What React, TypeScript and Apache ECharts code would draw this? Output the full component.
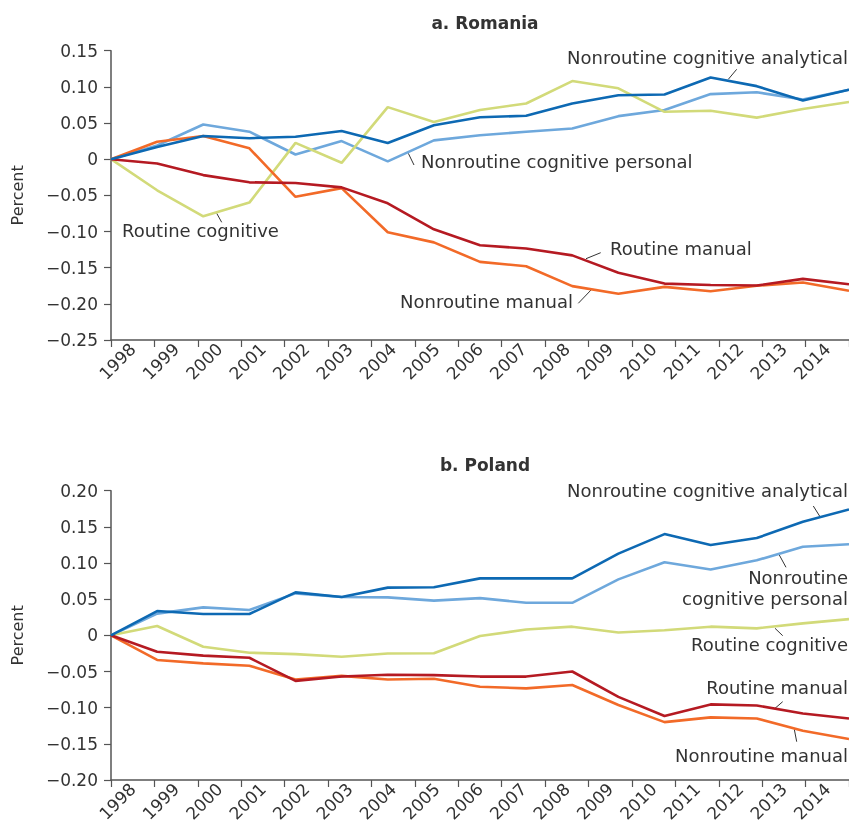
import React, { useEffect, useRef } from 'react';
import * as echarts from 'echarts';

const FONT = '"DejaVu Sans", sans-serif';

const years = ['1998','1999','2000','2001','2002','2003','2004','2005','2006','2007','2008','2009','2010','2011','2012','2013','2014'];

// a. Romania
const roNCA = [0, 0.017, 0.032, 0.029, 0.031, 0.039, 0.0225, 0.047, 0.058, 0.060, 0.077, 0.0885, 0.0895, 0.113, 0.101, 0.081, 0.096];
const roNCP = [0, 0.019, 0.048, 0.038, 0.0065, 0.025, -0.003, 0.026, 0.033, 0.038, 0.0425, 0.0595, 0.068, 0.090, 0.0925, 0.0825, 0.096];
const roRC = [0, -0.043, -0.079, -0.060, 0.0225, -0.005, 0.072, 0.0515, 0.068, 0.077, 0.108, 0.098, 0.0655, 0.067, 0.0575, 0.0695, 0.079];
const roRM = [0, -0.006, -0.022, -0.032, -0.033, -0.039, -0.061, -0.097, -0.119, -0.1235, -0.133, -0.157, -0.172, -0.174, -0.1747, -0.1655, -0.173];
const roNM = [0, 0.024, 0.032, 0.015, -0.052, -0.040, -0.101, -0.115, -0.142, -0.148, -0.1755, -0.186, -0.1765, -0.1825, -0.175, -0.1705, -0.182];

// b. Poland
const plNCA = [0, 0.0336, 0.0295, 0.0295, 0.0594, 0.053, 0.066, 0.0665, 0.0788, 0.0788, 0.0788, 0.113, 0.140, 0.125, 0.1345, 0.157, 0.174];
const plNCP = [0, 0.030, 0.0387, 0.035, 0.058, 0.053, 0.0525, 0.048, 0.0515, 0.045, 0.045, 0.0774, 0.101, 0.091, 0.1037, 0.1225, 0.126];
const plRC = [0, 0.013, -0.0157, -0.024, -0.026, -0.0295, -0.025, -0.0248, -0.001, 0.008, 0.012, 0.004, 0.007, 0.012, 0.0097, 0.0166, 0.0225];
const plRM = [0, -0.0226, -0.028, -0.031, -0.063, -0.057, -0.0545, -0.055, -0.057, -0.057, -0.050, -0.085, -0.1115, -0.0955, -0.097, -0.108, -0.115];
const plNM = [0, -0.034, -0.0387, -0.042, -0.061, -0.056, -0.061, -0.060, -0.071, -0.0733, -0.0687, -0.0963, -0.120, -0.1134, -0.115, -0.132, -0.1434];

const panelTitles = ['a. Romania', 'b. Poland'];
const seriesNames = ['Nonroutine cognitive personal', 'Routine cognitive', 'Nonroutine manual', 'Routine manual', 'Nonroutine cognitive analytical'];

const COLORS: Record<string, string> = {
  'Nonroutine cognitive analytical': '#0d69b3',
  'Nonroutine cognitive personal': '#6ea8dc',
  'Routine cognitive': '#d2da79',
  'Routine manual': '#b51a22',
  'Nonroutine manual': '#f26a28',
};

function fmt(v: number): string {
  if (Math.abs(v) < 1e-9) return '0';
  return (v < 0 ? '\u2212' : '') + Math.abs(v).toFixed(2);
}

export default function App() {
  const ref = useRef<HTMLDivElement>(null);
  useEffect(() => {
    const chart = echarts.init(ref.current!, null, { renderer: 'svg' });
    const roData: Record<string, number[]> = {
      'Nonroutine cognitive analytical': roNCA,
      'Nonroutine cognitive personal': roNCP,
      'Routine cognitive': roRC,
      'Routine manual': roRM,
      'Nonroutine manual': roNM,
    };
    const plData: Record<string, number[]> = {
      'Nonroutine cognitive analytical': plNCA,
      'Nonroutine cognitive personal': plNCP,
      'Routine cognitive': plRC,
      'Routine manual': plRM,
      'Nonroutine manual': plNM,
    };
    const axisColor = '#555';
    const textColor = '#333';
    const labelAxis = (gi: number) => ({
      type: 'category', gridIndex: gi, data: years, boundaryGap: true,
      axisLine: { show: true, onZero: false, lineStyle: { color: axisColor, width: 1.5 } },
      axisTick: { show: true, length: 7, lineStyle: { color: axisColor, width: 1.2 } },
      axisLabel: { rotate: 45, interval: 0, fontSize: 17, color: textColor, fontFamily: FONT, margin: 6 },
      splitLine: { show: false },
    });
    const dataAxis = (gi: number) => ({
      type: 'category', gridIndex: gi, data: years, boundaryGap: false, show: false,
      axisLine: { onZero: false },
    });
    const yAx = (gi: number, min: number, max: number) => ({
      type: 'value', gridIndex: gi, min, max, interval: 0.05,
      name: 'Percent', nameLocation: 'middle', nameRotate: 90, nameGap: 86,
      nameTextStyle: { fontSize: 16, color: textColor, fontFamily: FONT },
      axisLine: { show: true, onZero: false, lineStyle: { color: axisColor, width: 1.5 } },
      axisTick: { show: true, length: 7, lineStyle: { color: axisColor, width: 1.2 } },
      axisLabel: { fontSize: 17, color: textColor, fontFamily: FONT, margin: 13, formatter: fmt },
      splitLine: { show: false },
    });
    const mkSeries = (data: Record<string, number[]>, xi: number, yi: number) =>
      seriesNames.map((n) => ({
        type: 'line', name: n, xAxisIndex: xi, yAxisIndex: yi, data: data[n],
        symbol: 'none', lineStyle: { width: 2.6, color: COLORS[n] }, itemStyle: { color: COLORS[n] },
      }));

    const txt = (s: string, x: number, y: number, align: string) => ({
      type: 'text', x, y, silent: true,
      style: { text: s, fill: textColor, font: '18px ' + FONT, align, verticalAlign: 'middle' },
    });
    const ln = (x1: number, y1: number, x2: number, y2: number) => ({
      type: 'line', silent: true, shape: { x1, y1, x2, y2 }, style: { stroke: '#333', lineWidth: 1 },
    });

    const option: any = {
      animation: false,
      title: [
        { text: panelTitles[0], left: 480, top: 9, textAlign: 'center', textStyle: { fontSize: 17, fontWeight: 'bold', color: textColor, fontFamily: FONT } },
        { text: panelTitles[1], left: 480, top: 451, textAlign: 'center', textStyle: { fontSize: 17, fontWeight: 'bold', color: textColor, fontFamily: FONT } },
      ],
      grid: [
        { left: 111, top: 50.7, width: 738, height: 289.3 },
        { left: 111, top: 490.7, width: 738, height: 289.3 },
      ],
      xAxis: [labelAxis(0), dataAxis(0), labelAxis(1), dataAxis(1)],
      yAxis: [yAx(0, -0.25, 0.15), yAx(1, -0.2, 0.2)],
      series: [...mkSeries(roData, 1, 0), ...mkSeries(plData, 3, 1)],
      graphic: [
        // Romania annotations
        txt('Nonroutine cognitive analytical', 848, 57, 'right'),
        ln(736.7, 69.3, 728.3, 79.3),
        txt('Nonroutine cognitive personal', 421, 161.5, 'left'),
        ln(408.3, 153.3, 414, 165),
        txt('Routine cognitive', 122, 230, 'left'),
        ln(216.7, 213.3, 221.7, 222.3),
        txt('Routine manual', 610, 248.5, 'left'),
        ln(586, 258.7, 600.7, 252.7),
        txt('Nonroutine manual', 573, 301.7, 'right'),
        ln(578.3, 303.3, 591.7, 289.3),
        // Poland annotations
        txt('Nonroutine cognitive analytical', 848, 490, 'right'),
        ln(813.3, 506, 820, 516.7),
        txt('Nonroutine', 848, 577.7, 'right'),
        txt('cognitive personal', 848, 598, 'right'),
        ln(779.3, 555, 786, 567.3),
        txt('Routine cognitive', 848, 644.7, 'right'),
        ln(775, 628.3, 782.7, 635.7),
        txt('Routine manual', 848, 687, 'right'),
        ln(775, 708.3, 782.7, 701.7),
        txt('Nonroutine manual', 848, 755.7, 'right'),
        ln(794.3, 729.3, 796.7, 741.7),
      ],
    };
    chart.setOption(option);
    return () => chart.dispose();
  }, []);
  return <div ref={ref} style={{ position: 'fixed', left: 0, top: 0, width: 849, height: 836 }} />;
}
